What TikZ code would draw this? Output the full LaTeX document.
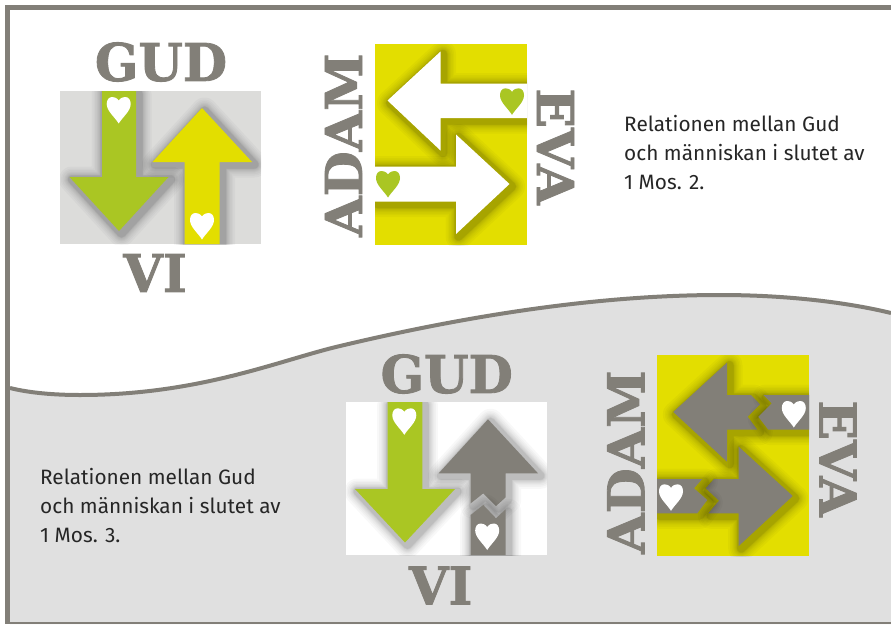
\documentclass[tikz,border=0pt]{standalone}
\usepackage{fontspec}
\setmainfont{Fira Sans}
\newfontfamily\slabfont[BoldFeatures={FakeBold=1.6}]{DejaVu Serif}
\usetikzlibrary{arrows.meta,positioning,calc}
\definecolor{frameGray}{HTML}{827F78}
\definecolor{waveGray}{HTML}{E0E0E0}
\definecolor{panelGray}{HTML}{DCDCDA}
\definecolor{lemon}{HTML}{E3DE00}
\definecolor{leaf}{HTML}{AAC623}
\tikzset{
    headword/.style={inner sep=0pt,text=frameGray,xscale=0.98,font=\slabfont\bfseries\fontsize{52}{52}\selectfont},
    caption/.style={inner sep=0pt,anchor=west,align=left,text=black!85,font=\fontsize{20.8}{29}\selectfont},
    heart/.pic={
        \fill[pic actions] (0,3.5) .. controls (-2,0.5) and (-5,0) .. (-6.5,0)
            .. controls (-10,0) and (-12,3) .. (-12,7)
            .. controls (-12,14) and (-4,20) .. (0,26.5)
            .. controls (4,20) and (12,14) .. (12,7)
            .. controls (12,3) and (10,0) .. (6.5,0)
            .. controls (5,0) and (2,0.5) .. (0,3.5) -- cycle;
    }
}
% colour, then the closed path; a blurred shadow comes first
\newcommand{\softshape}[2]{
    \foreach \blur in {26,22,19,16,14,12,10,9,8,8}
        \draw[black,opacity=0.028,line join=round,line width=\blur pt,shift={(2.5,2.5)}] #2;
    \fill[#1] #2;
}

\begin{document}
\begin{tikzpicture}[x=1pt,y=-1pt]
    \useasboundingbox (0,0) rectangle (891,624);

    % Background
    \fill[waveGray] (10,388) .. controls (30,393) and (55,395) .. (80,395)
        .. controls (200,395) and (280,360) .. (340,346)
        .. controls (470,315) and (600,295) .. (720,295)
        .. controls (790,295) and (850,303) .. (891,313) -- (891,624) -- (10,624) -- cycle;
    \draw[frameGray,line width=4pt] (10,388) .. controls (30,393) and (55,395) .. (80,395)
        .. controls (200,395) and (280,360) .. (340,346)
        .. controls (470,315) and (600,295) .. (720,295)
        .. controls (790,295) and (850,303) .. (891,313);
    \draw[frameGray,line width=5pt] (891,7.5) -- (7.5,7.5) -- (7.5,623);
    \draw[frameGray,line width=2.5pt] (5,623) -- (891,623);

    % Upper left: God and us
    \fill[panelGray] (60,91) rectangle (261,244);
    \begin{scope}
        \clip (60,91) rectangle (261,244);
        \softshape{leaf}{(102,91) -- (136,91) -- (136,177) -- (168.5,177) -- (119,231) -- (69.5,177) -- (102,177) -- cycle}
        \softshape{lemon}{(202,108) -- (252,162) -- (219.5,162) -- (219.5,244) -- (184.5,244) -- (184.5,162) -- (152.5,162) -- cycle}
    \end{scope}
    \pic[fill=white] at (118.7,97) {heart};
    \pic[fill=white] at (202,213) {heart};
    \node[headword] (gudtop) at (161,62) {GUD};
    \node[headword] (vitop) at (155,273) {VI};

    % Upper middle: Adam and Eve
    \fill[lemon] (375,44) rectangle (527,245);
    \begin{scope}
        \clip (375,44) rectangle (527,245);
        \softshape{white}{(387.5,100.5) -- (440.5,51.5) -- (440.5,83.5) -- (527,83.5) -- (527,118) -- (440.5,118) -- (440.5,150.5) -- cycle}
        \softshape{white}{(509.5,184) -- (456,234) -- (456,201.5) -- (375,201.5) -- (375,166.5) -- (456,166.5) -- (456,134.5) -- cycle}
    \end{scope}
    \pic[fill=leaf] at (512,88.3) {heart};
    \pic[fill=leaf] at (388,171) {heart};
    \node[headword,rotate=90] (adamtop) at (343.5,145) {ADAM};
    \node[headword,rotate=-90] (evatop) at (555.5,146.5) {EVA};

    % Captions
    \node[caption] (captop) at (624,152.5) {Relationen mellan Gud\\och människan i slutet av\\1 Mos. 2.};
    \node[caption] (capbottom) at (40,506) {Relationen mellan Gud\\och människan i slutet av\\1 Mos. 3.};

    % Lower middle: God and us, broken
    \fill[white] (346,402) rectangle (547,555);
    \begin{scope}
        \clip (346,402) rectangle (547,555);
        \softshape{leaf}{(387.7,402) -- (422.3,402) -- (422.3,489) -- (455,489) -- (405,542.5) -- (355,489) -- (387.7,489) -- cycle}
        \softshape{frameGray}{(488,419.3) -- (538,473.3) -- (505.7,473.3) -- (505.7,497.3) -- (496,506) -- (483.3,493.3) -- (470.7,503.3) -- (470.7,473.3) -- (438.7,473.3) -- cycle}
        \softshape{frameGray}{(470.7,515) -- (483.3,505) -- (496,518.3) -- (505.7,509.3) -- (505.7,555) -- (470.7,555) -- cycle}
    \end{scope}
    \pic[fill=white] at (404.3,408.3) {heart};
    \pic[fill=white] at (487.2,523.5) {heart};
    \node[headword] (gudbottom) at (446.7,374) {GUD};
    \node[headword] (vibottom) at (440.7,585.5) {VI};

    % Lower right: Adam and Eve, broken
    \fill[lemon] (657,355) rectangle (809,556);
    \begin{scope}
        \clip (657,355) rectangle (809,556);
        \softshape{frameGray}{(673.3,412) -- (727,362.7) -- (727,395) -- (751,395) -- (760,404.3) -- (747.7,416.7) -- (757.3,429.7) -- (727,429.7) -- (727,461.7) -- cycle}
        \softshape{frameGray}{(763.3,395) -- (809,395) -- (809,429.7) -- (768.3,429.7) -- (758.3,416.7) -- (771.7,403.3) -- cycle}
        \softshape{frameGray}{(792.7,496) -- (738.7,546) -- (738.7,513.3) -- (708.3,513.3) -- (719,500.7) -- (705.7,488.3) -- (714,479) -- (738.7,479) -- (738.7,446.7) -- cycle}
        \softshape{frameGray}{(657,479) -- (702.3,479) -- (694,488.3) -- (707.3,500) -- (697.3,513.3) -- (657,513.3) -- cycle}
    \end{scope}
    \pic[fill=white] at (793.8,401) {heart};
    \pic[fill=white] at (671,484.3) {heart};
    \node[headword,rotate=90] (adambottom) at (625.8,462) {ADAM};
    \node[headword,rotate=-90] (evabottom) at (838,458.5) {EVA};
\end{tikzpicture}
\end{document}
